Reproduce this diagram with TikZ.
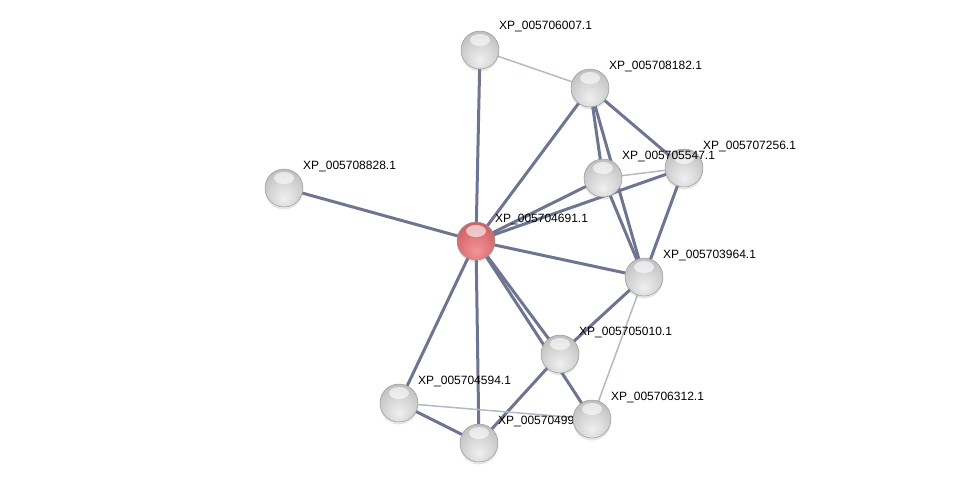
\documentclass[tikz,border=0pt]{standalone}
\usepackage{fontspec}
\setmainfont{Liberation Sans}
\usepackage{tikz}
\usetikzlibrary{calc,positioning,shadows}
\definecolor{edgegrey}{RGB}{110,117,144}
\definecolor{lightedge}{RGB}{180,184,200}
\definecolor{redA}{RGB}{240,150,152}
\definecolor{redB}{RGB}{224,118,122}
\definecolor{redC}{RGB}{196,86,90}
\definecolor{redD}{RGB}{150,60,64}
\pgfdeclareradialshading{greysphere}{\pgfpoint{0bp}{-14bp}}{color(0bp)=(white!94!black);color(18bp)=(white!84!black);color(40bp)=(white!70!black);color(52bp)=(white!52!black);color(70bp)=(white!45!black)}
\pgfdeclareradialshading{redsphere}{\pgfpoint{0bp}{-14bp}}{color(0bp)=(redA);color(18bp)=(redB);color(40bp)=(redC);color(52bp)=(redD);color(70bp)=(redD)}

\begin{document}
\begin{tikzpicture}[x=1pt,y=-1pt]

\tikzset{protnode/.style={shape=circle,minimum size=38pt,inner sep=0pt,draw=black!40,line width=0.5pt,shading=greysphere,
  drop shadow={shadow xshift=0pt,shadow yshift=-2.5pt,opacity=0.2},
  path picture={\fill[white,opacity=0.6] ($(path picture bounding box.center)+(0pt,10pt)$) ellipse (10pt and 6pt);}},
centernode/.style={protnode,shading=redsphere},
lbl/.style={font=\fontsize{12}{14}\selectfont,anchor=west,inner sep=1pt,text=black},
strong/.style={draw=edgegrey,line width=3pt},
weak/.style={draw=lightedge,line width=1.5pt}}

\useasboundingbox (0,0) rectangle (975,488);

% Node positions
\coordinate (p691) at (476,241);
\coordinate (p007) at (480,50);
\coordinate (p182) at (590,88);
\coordinate (p256) at (684,168);
\coordinate (p547) at (603,178);
\coordinate (p828) at (284,188);
\coordinate (p964) at (644,277);
\coordinate (p010) at (560,354);
\coordinate (p594) at (399,403);
\coordinate (p312) at (592,419);
\coordinate (p990) at (479,443);

% Edges
\draw[strong] (p691) -- (p007); \draw[strong] (p691) -- (p828); \draw[strong] (p691) -- (p182); \draw[strong] (p691) -- (p547); \draw[strong] (p691) -- (p256); \draw[strong] (p691) -- (p964); % centre
\draw[strong] (p691) -- (p010); \draw[strong] (p691) -- (p312); \draw[strong] (p691) -- (p594); \draw[strong] (p691) -- (p990);
\draw[weak] (p007) -- (p182); \draw[strong] (p182) -- (p547); \draw[strong] (p182) -- (p964); \draw[strong] (p182) -- (p256); % top cluster
\draw[weak] (p547) -- (p256); \draw[strong] (p547) -- (p964); \draw[strong] (p256) -- (p964);
\draw[strong] (p964) -- (p010); \draw[weak] (p964) -- (p312); % lower cluster
\draw[strong] (p010) -- (p990); \draw[strong] (p594) -- (p990); \draw[weak] (p594) -- (p312);

% Proteins
\node[protnode] (n007) at (p007) {}; \node[lbl] (l007) at ($(p007)+(18,-23)$) {XP\_005706007.1};
\node[protnode] (n182) at (p182) {}; \node[lbl] (l182) at ($(p182)+(18,-22)$) {XP\_005708182.1};
\node[protnode] (n256) at (p256) {}; \node[lbl] (l256) at ($(p256)+(18,-22)$) {XP\_005707256.1};
\node[protnode] (n547) at (p547) {}; \node[lbl] (l547) at ($(p547)+(18,-22)$) {XP\_005705547.1};
\node[protnode] (n828) at (p828) {}; \node[lbl] (l828) at ($(p828)+(18,-22)$) {XP\_005708828.1};
\node[centernode] (n691) at (p691) {}; \node[lbl] (l691) at ($(p691)+(18,-22)$) {XP\_005704691.1};
\node[protnode] (n964) at (p964) {}; \node[lbl] (l964) at ($(p964)+(18,-22)$) {XP\_005703964.1};
\node[protnode] (n010) at (p010) {}; \node[lbl] (l010) at ($(p010)+(18,-22)$) {XP\_005705010.1};
\node[protnode] (n594) at (p594) {}; \node[lbl] (l594) at ($(p594)+(18,-22)$) {XP\_005704594.1};
\node[protnode] (n990) at (p990) {}; \node[lbl] (l990) at ($(p990)+(18,-22)$) {XP\_00570499};
\node[protnode] (n312) at (p312) {}; \node[lbl] (l312) at ($(p312)+(18,-22)$) {XP\_005706312.1};

\end{tikzpicture}
\end{document}
